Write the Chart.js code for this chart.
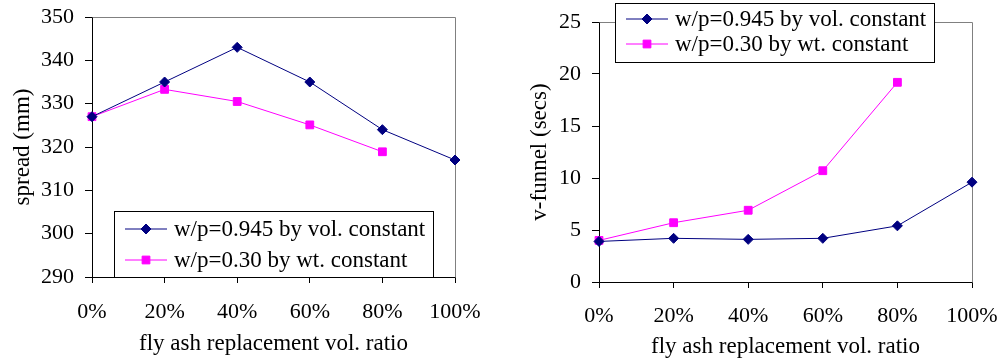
<!DOCTYPE html>
<html>
<head>
<meta charset="utf-8">
<script src="https://cdn.jsdelivr.net/npm/chart.js@4.4.0/dist/chart.umd.min.js"></script>
<style>
  html, body { margin: 0; padding: 0; background: #fff; }
  body { width: 1004px; height: 358px; position: relative; overflow: hidden; }
  canvas { position: absolute; top: 0; }
  #spreadChart { left: 0; }
  #funnelChart { left: 505px; }
</style>
</head>
<body>
<canvas id="spreadChart" width="500" height="358"></canvas>
<canvas id="funnelChart" width="499" height="358"></canvas>
<script>
const ratios = ['0%', '20%', '40%', '60%', '80%', '100%'];
const seriesNames = ['w/p=0.945 by vol. constant', 'w/p=0.30 by wt. constant'];

const spreadByVol = [327, 335, 343, 335, 324, 317];
const spreadByWt = [327, 333.3, 330.5, 325.1, 318.9, null];
const spreadRange = [290, 350, 10];

const funnelByVol = [3.9, 4.2, 4.1, 4.2, 5.4, 9.6];
const funnelByWt = [4.0, 5.7, 6.9, 10.7, 19.2, null];
const funnelRange = [0, 25, 5];

const serif = "'Liberation Serif', 'Times New Roman', serif";
Chart.defaults.font.family = serif;
Chart.defaults.font.size = 22;
Chart.defaults.color = '#000';

// gray frame on the top and right of the plot area
const plotFrame = {
  id: 'plotFrame',
  beforeDatasetsDraw(chart) {
    const a = chart.chartArea;
    const ctx = chart.ctx;
    ctx.save();
    ctx.strokeStyle = '#808080';
    ctx.lineWidth = 1;
    ctx.beginPath();
    ctx.moveTo(Math.round(a.left) + 0.5, Math.round(a.top) + 0.5);
    ctx.lineTo(Math.round(a.right) + 0.5, Math.round(a.top) + 0.5);
    ctx.lineTo(Math.round(a.right) + 0.5, Math.round(a.bottom) + 0.5);
    ctx.stroke();
    ctx.restore();
  }
};

// boxed legend sitting over the plot
const boxLegend = {
  id: 'boxLegend',
  afterDraw(chart, args, opts) {
    const ctx = chart.ctx;
    ctx.save();
    ctx.fillStyle = '#fff';
    ctx.fillRect(opts.x, opts.y, opts.w, opts.h);
    ctx.strokeStyle = '#000';
    ctx.lineWidth = 1;
    ctx.strokeRect(opts.x + 0.5, opts.y + 0.5, opts.w, opts.h);
    ctx.font = '23px ' + serif;
    ctx.textBaseline = 'middle';
    chart.data.datasets.forEach((ds, i) => {
      const y = opts.y + opts.rows[i];
      ctx.strokeStyle = ds.borderColor;
      ctx.fillStyle = ds.backgroundColor;
      ctx.lineWidth = ds.borderWidth;
      ctx.beginPath();
      ctx.moveTo(opts.x + 11, y);
      ctx.lineTo(opts.x + 53, y);
      ctx.stroke();
      Chart.helpers.drawPoint(ctx, {pointStyle: ds.pointStyle, radius: ds.pointRadius, borderWidth: 1}, opts.x + 32, y);
      ctx.fillStyle = '#000';
      ctx.fillText(ds.label, opts.x + 60, y + 1);
    });
    ctx.restore();
  }
};

function lineSets(vol, wt) {
  return [{
    label: seriesNames[0],
    data: vol,
    borderColor: '#000080',
    backgroundColor: '#000080',
    borderWidth: 1,
    pointStyle: 'rectRot',
    pointRadius: 5,
    pointBorderWidth: 1
  }, {
    label: seriesNames[1],
    data: wt,
    borderColor: '#ff00ff',
    backgroundColor: '#ff00ff',
    borderWidth: 1,
    pointStyle: 'rect',
    pointRadius: 5.5,
    pointBorderWidth: 1
  }];
}

function makeOptions(o) {
  return {
    responsive: false,
    animation: false,
    layout: { padding: { top: o.top, right: o.right, left: 0, bottom: 0 } },
    plugins: {
      legend: { display: false },
      tooltip: { enabled: false },
      boxLegend: o.legend
    },
    scales: {
      x: {
        offset: false,
        // fixed height; edge labels fit inside the layout padding
        afterFit: s => { s.height = o.xHeight; s.paddingLeft = 0; s.paddingRight = 0; },
        border: { color: '#000', width: 1 },
        grid: { display: true, drawOnChartArea: false, tickLength: 6, color: '#000', offset: false },
        ticks: { padding: o.xTickPad, maxRotation: 0, autoSkip: false },
        title: {
          display: true, text: 'fly ash replacement vol. ratio',
          font: { size: 23, lineHeight: 1 }, padding: { top: 0, bottom: o.xTitlePad }
        }
      },
      y: {
        min: o.range[0],
        max: o.range[1],
        afterFit: s => { s.width = o.yWidth; s.paddingTop = 0; s.paddingBottom = 0; },
        border: { color: '#000', width: 1 },
        grid: { display: true, drawOnChartArea: false, tickLength: 7, color: '#000' },
        ticks: { stepSize: o.range[2], padding: o.yTickPad },
        title: {
          display: true, text: o.yTitle,
          font: { size: 23, lineHeight: 1 }, padding: { top: o.yTitlePad, bottom: 0 }
        }
      }
    }
  };
}

new Chart(document.getElementById('spreadChart'), {
  type: 'line',
  data: { labels: ratios, datasets: lineSets(spreadByVol, spreadByWt) },
  options: makeOptions({
    top: 17, right: 45, xHeight: 81, yWidth: 92,
    xTickPad: 16, xTitlePad: 3, yTickPad: 11, yTitlePad: 11,
    range: spreadRange, yTitle: 'spread (mm)',
    legend: { x: 114, y: 211, w: 319, h: 66, rows: [18, 49] }
  }),
  plugins: [plotFrame, boxLegend]
});

new Chart(document.getElementById('funnelChart'), {
  type: 'line',
  data: { labels: ratios, datasets: lineSets(funnelByVol, funnelByWt) },
  options: makeOptions({
    top: 22, right: 32, xHeight: 76, yWidth: 94,
    xTickPad: 15, xTitlePad: 0, yTickPad: 11, yTitlePad: 23,
    range: funnelRange, yTitle: 'v-funnel (secs)',
    legend: { x: 110, y: 3, w: 319, h: 59, rows: [16, 41] }
  }),
  plugins: [plotFrame, boxLegend]
});
</script>
</body>
</html>
